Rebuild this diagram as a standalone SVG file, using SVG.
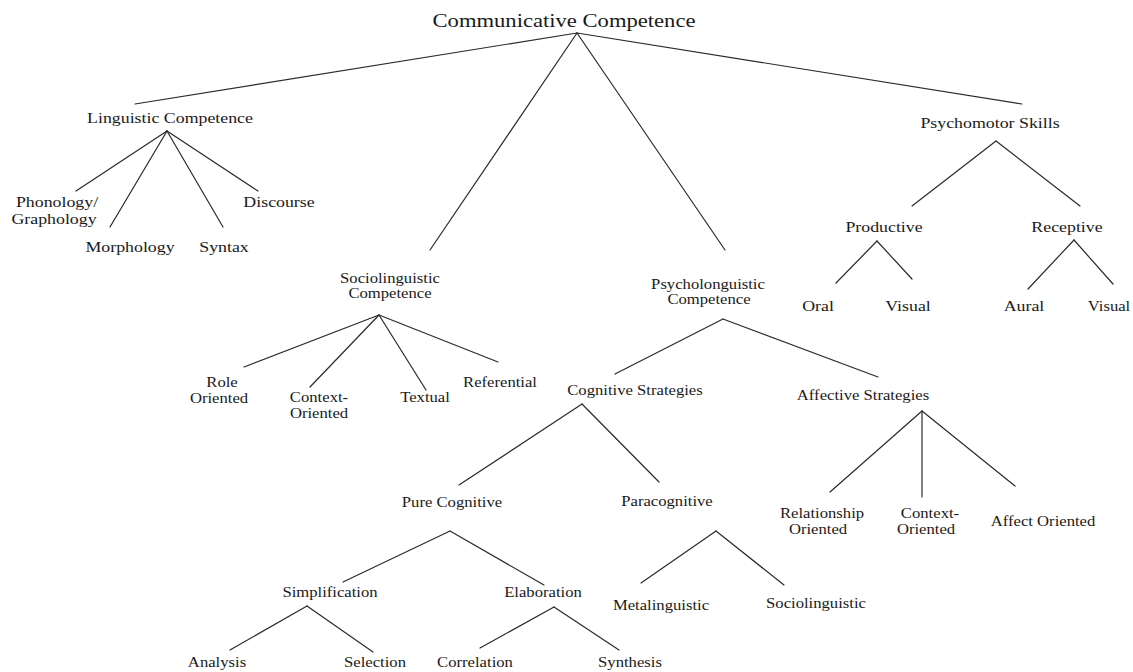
<svg xmlns="http://www.w3.org/2000/svg" width="1133" height="672" viewBox="0 0 1133 672">
<style>
text{font-family:"Liberation Serif","Times New Roman",serif;fill:#1a1a1a;text-anchor:middle;font-size:14px}
.t0{font-size:19px}
.t1{font-size:15px}
#connectors line{stroke:#2a2a2a;stroke-width:1.2;stroke-linecap:round}
</style>
<rect width="1133" height="672" fill="#ffffff"/>
<g id="connectors">
<line x1="577" y1="33" x2="135" y2="104"/>
<line x1="577" y1="33" x2="430" y2="250"/>
<line x1="577" y1="33" x2="725" y2="250"/>
<line x1="577" y1="33" x2="1022" y2="104"/>
<line x1="167" y1="131" x2="76" y2="191"/>
<line x1="167" y1="131" x2="110" y2="227"/>
<line x1="167" y1="131" x2="223" y2="227"/>
<line x1="167" y1="131" x2="258" y2="191"/>
<line x1="379" y1="315" x2="244" y2="367"/>
<line x1="379" y1="315" x2="310" y2="387"/>
<line x1="379" y1="315" x2="426" y2="390"/>
<line x1="379" y1="315" x2="498" y2="362"/>
<line x1="723" y1="319" x2="615" y2="374"/>
<line x1="723" y1="319" x2="878" y2="377"/>
<line x1="582" y1="404" x2="459" y2="485"/>
<line x1="582" y1="404" x2="659" y2="482"/>
<line x1="922" y1="411" x2="830" y2="492"/>
<line x1="922" y1="411" x2="922" y2="497"/>
<line x1="922" y1="411" x2="1015" y2="486"/>
<line x1="450" y1="531" x2="343" y2="582"/>
<line x1="450" y1="531" x2="544" y2="585"/>
<line x1="716" y1="531" x2="641" y2="583"/>
<line x1="716" y1="531" x2="784" y2="585"/>
<line x1="307" y1="606" x2="230" y2="650"/>
<line x1="307" y1="606" x2="373" y2="652"/>
<line x1="554" y1="607" x2="480" y2="648"/>
<line x1="554" y1="607" x2="619" y2="650"/>
<line x1="996" y1="141" x2="912" y2="206"/>
<line x1="996" y1="141" x2="1080" y2="206"/>
<line x1="877" y1="241" x2="836" y2="283"/>
<line x1="877" y1="241" x2="912" y2="279"/>
<line x1="1074" y1="240" x2="1028" y2="289"/>
<line x1="1074" y1="240" x2="1113" y2="284"/>
</g>
<g id="n-communicative"><text class="t0" x="0" y="27" transform="translate(564,0) scale(1.19,1)">Communicative Competence</text></g>
<g id="n-linguistic"><text class="t1" x="0" y="123" transform="translate(170,0) scale(1.19,1)">Linguistic Competence</text></g>
<g id="n-phonology"><text class="t1" x="0" y="207" transform="translate(57,0) scale(1.19,1)">Phonology/</text><text class="t1" x="0" y="224" transform="translate(54,0) scale(1.19,1)">Graphology</text></g>
<g id="n-morphology"><text class="t1" x="0" y="252" transform="translate(130,0) scale(1.19,1)">Morphology</text></g>
<g id="n-syntax"><text class="t1" x="0" y="252" transform="translate(224,0) scale(1.19,1)">Syntax</text></g>
<g id="n-discourse"><text class="t1" x="0" y="207" transform="translate(279,0) scale(1.19,1)">Discourse</text></g>
<g id="n-sociolinguistic"><text x="0" y="283" transform="translate(390,0) scale(1.19,1)">Sociolinguistic</text><text x="0" y="298" transform="translate(390,0) scale(1.19,1)">Competence</text></g>
<g id="n-role"><text x="0" y="387" transform="translate(222,0) scale(1.19,1)">Role</text><text x="0" y="403" transform="translate(219,0) scale(1.19,1)">Oriented</text></g>
<g id="n-context1"><text x="0" y="402" transform="translate(319,0) scale(1.19,1)">Context-</text><text x="0" y="418" transform="translate(319,0) scale(1.19,1)">Oriented</text></g>
<g id="n-textual"><text x="0" y="402" transform="translate(425,0) scale(1.19,1)">Textual</text></g>
<g id="n-referential"><text x="0" y="387" transform="translate(500,0) scale(1.19,1)">Referential</text></g>
<g id="n-psycholinguistic"><text x="0" y="289" transform="translate(708,0) scale(1.19,1)">Psycholonguistic</text><text x="0" y="304" transform="translate(709,0) scale(1.19,1)">Competence</text></g>
<g id="n-cognitive"><text x="0" y="395" transform="translate(635,0) scale(1.19,1)">Cognitive Strategies</text></g>
<g id="n-affective"><text x="0" y="400" transform="translate(863,0) scale(1.19,1)">Affective Strategies</text></g>
<g id="n-pure"><text x="0" y="507" transform="translate(452,0) scale(1.19,1)">Pure Cognitive</text></g>
<g id="n-paracognitive"><text x="0" y="506" transform="translate(667,0) scale(1.19,1)">Paracognitive</text></g>
<g id="n-relationship"><text x="0" y="518" transform="translate(822,0) scale(1.19,1)">Relationship</text><text x="0" y="534" transform="translate(818,0) scale(1.19,1)">Oriented</text></g>
<g id="n-context2"><text x="0" y="518" transform="translate(930,0) scale(1.19,1)">Context-</text><text x="0" y="534" transform="translate(926,0) scale(1.19,1)">Oriented</text></g>
<g id="n-affect"><text x="0" y="526" transform="translate(1043,0) scale(1.19,1)">Affect Oriented</text></g>
<g id="n-simplification"><text x="0" y="597" transform="translate(330,0) scale(1.19,1)">Simplification</text></g>
<g id="n-elaboration"><text x="0" y="597" transform="translate(543,0) scale(1.19,1)">Elaboration</text></g>
<g id="n-metalinguistic"><text x="0" y="610" transform="translate(661,0) scale(1.19,1)">Metalinguistic</text></g>
<g id="n-sociolinguistic2"><text x="0" y="608" transform="translate(816,0) scale(1.19,1)">Sociolinguistic</text></g>
<g id="n-analysis"><text x="0" y="667" transform="translate(217,0) scale(1.19,1)">Analysis</text></g>
<g id="n-selection"><text x="0" y="667" transform="translate(375,0) scale(1.19,1)">Selection</text></g>
<g id="n-correlation"><text x="0" y="667" transform="translate(475,0) scale(1.19,1)">Correlation</text></g>
<g id="n-synthesis"><text x="0" y="667" transform="translate(630,0) scale(1.19,1)">Synthesis</text></g>
<g id="n-psychomotor"><text class="t1" x="0" y="128" transform="translate(990,0) scale(1.19,1)">Psychomotor Skills</text></g>
<g id="n-productive"><text class="t1" x="0" y="232" transform="translate(884,0) scale(1.19,1)">Productive</text></g>
<g id="n-receptive"><text class="t1" x="0" y="232" transform="translate(1067,0) scale(1.19,1)">Receptive</text></g>
<g id="n-oral"><text class="t1" x="0" y="311" transform="translate(818,0) scale(1.19,1)">Oral</text></g>
<g id="n-visual1"><text class="t1" x="0" y="311" transform="translate(908,0) scale(1.19,1)">Visual</text></g>
<g id="n-aural"><text class="t1" x="0" y="311" transform="translate(1024,0) scale(1.19,1)">Aural</text></g>
<g id="n-visual2"><text x="0" y="311" transform="translate(1109,0) scale(1.19,1)">Visual</text></g>
</svg>
